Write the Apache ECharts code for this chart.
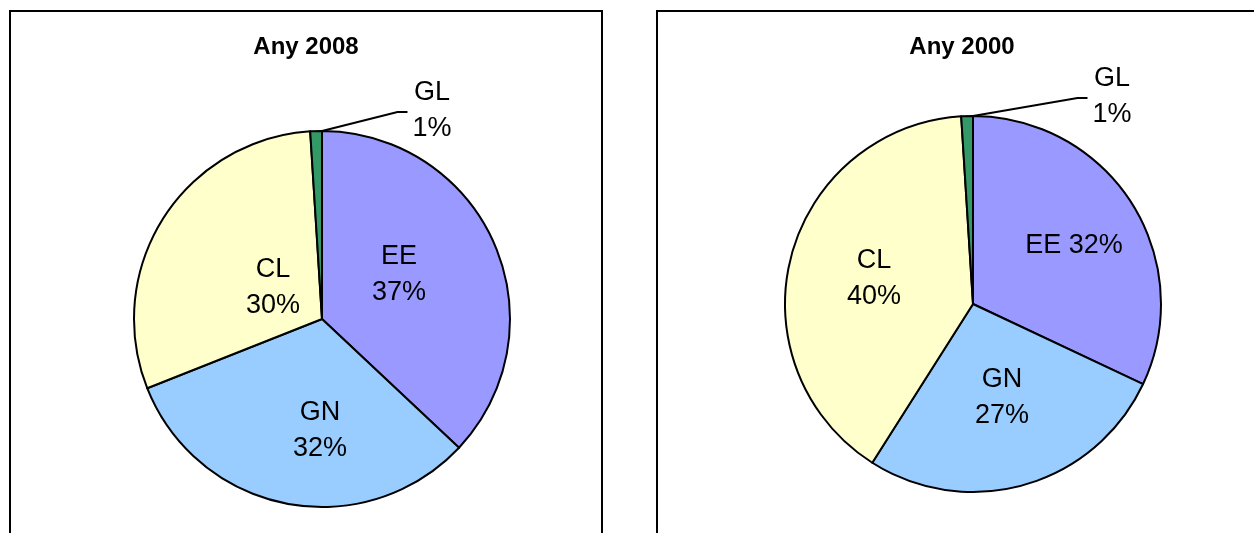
<!DOCTYPE html>
<html>
<head>
<meta charset="utf-8">
<script src="https://cdn.jsdelivr.net/npm/echarts@6/dist/echarts.min.js"></script>
<style>
  html, body { margin: 0; padding: 0; background: #fff; }
  #chart { width: 1254px; height: 533px; }
</style>
</head>
<body>
<div id="chart"></div>
<script>
// data
var categories = ["EE", "GN", "CL", "GL"];
var values2008 = [37, 32, 30, 1];
var values2000 = [32, 27, 40, 1];
var titles = ["Any 2008", "Any 2000"];
var colors = ["#9999FF", "#99CCFF", "#FFFFCC", "#339966"];

// label placement (offset from pie centre, px)
var labelPos2008 = [[77, -44], [-2, 112], [-49, -31], [110, -208]];
var labelPos2000 = [[101, -58], [29, 94], [-99, -25], [139, -207]];
var oneLine2000 = ["EE"];

var FONT = "Liberation Sans, Arial, sans-serif";
var R = 188;

var pies = [
  { cx: 322, cy: 319, values: values2008, pos: labelPos2008, oneLine: [] },
  { cx: 973, cy: 304, values: values2000, pos: labelPos2000, oneLine: oneLine2000 }
];

function buildSeries(p, idx) {
  var data = categories.map(function (c, i) {
    var item = { name: c, value: p.values[i], itemStyle: { color: colors[i] } };
    if (c === "GL") {
      item.label = { position: "outside" };
      item.labelLine = { show: true, lineStyle: { color: "#000", width: 2 } };
    }
    return item;
  });
  return {
    type: "pie",
    center: [p.cx, p.cy],
    radius: R,
    startAngle: 90,
    clockwise: true,
    animation: false,
    silent: true,
    avoidLabelOverlap: false,
    itemStyle: { borderColor: "#000", borderWidth: 2 },
    label: {
      show: true,
      position: "inside",
      color: "#000",
      fontFamily: FONT,
      fontSize: 27,
      lineHeight: 36,
      align: "center",
      formatter: function (d) {
        var sep = p.oneLine.indexOf(d.name) >= 0 ? " " : "\n";
        return d.name + sep + d.value + "%";
      }
    },
    labelLine: { show: false },
    labelLayout: function (params) {
      var off = p.pos[params.dataIndex];
      var x = p.cx + off[0];
      var y = p.cy + off[1];
      var res = { x: x, y: y, align: "center", verticalAlign: "middle" };
      if (categories[params.dataIndex] === "GL") {
        var left = x - params.labelRect.width / 2;
        var end = left - 5;
        res.labelLinePoints = [[p.cx, p.cy - R], [end - 10, y + 1], [end, y + 1]];
      }
      return res;
    },
    data: data
  };
}

var chart = echarts.init(document.getElementById("chart"));
chart.setOption({
  backgroundColor: "#fff",
  title: [
    { text: titles[0], left: 306, top: 35, textAlign: "center", padding: 0,
      textStyle: { fontFamily: FONT, fontSize: 24, fontWeight: "bold", color: "#000" } },
    { text: titles[1], left: 962, top: 35, textAlign: "center", padding: 0,
      textStyle: { fontFamily: FONT, fontSize: 24, fontWeight: "bold", color: "#000" } }
  ],
  graphic: [
    { type: "rect", shape: { x: 10, y: 11, width: 592, height: 600 },
      style: { fill: "none", stroke: "#000", lineWidth: 2 } },
    { type: "rect", shape: { x: 657, y: 11, width: 640, height: 600 },
      style: { fill: "none", stroke: "#000", lineWidth: 2 } }
  ],
  series: pies.map(buildSeries)
});
</script>
</body>
</html>
